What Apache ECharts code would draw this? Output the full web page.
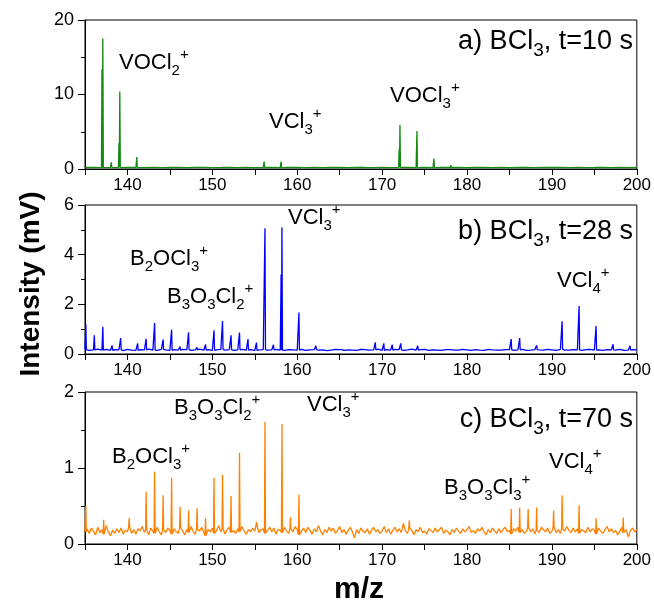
<!DOCTYPE html>
<html><head><meta charset="utf-8">
<script src="https://cdn.jsdelivr.net/npm/echarts@6/dist/echarts.min.js"></script>
<style>html,body{margin:0;padding:0;background:#fff}#c{width:654px;height:606px}</style>
</head><body><div id="c"></div>
<script>
// ---------- DATA ----------
const xMin = 135, xMax = 200;
const xTickLabels = [140, 150, 160, 170, 180, 190, 200];

// panel a (t = 10 s) baseline, 1 m/z step from 135
const baseAStart = 135, baseAStep = 1;
const baseA = [0.20,0.22,0.18,0.21,0.19,0.23,0.20,0.18,0.21,0.19,0.22,0.20,0.18,0.21,0.23,0.19,0.20,0.22,0.18,0.21,0.19,0.20,0.23,0.18,0.21,0.20,0.19,0.22,0.18,0.20,0.21,0.19,0.23,0.20,0.18,0.22,0.19,0.21,0.20,0.18,0.22,0.19,0.21,0.20,0.23,0.18,0.20,0.22,0.19,0.21,0.18,0.20,0.22,0.19,0.21,0.20,0.23,0.18,0.21,0.19,0.20,0.22,0.18,0.21,0.19,0.20];
const peaksA = [[136.1,0.4],[137.0,13.4],[137.1,17.5],[138.1,0.9],[139.0,3.5],[139.1,10.4],[141.1,1.6],[156.1,1.0],[158.1,1.0],[160.1,0.35],[172.0,2.6],[172.1,5.9],[174.1,5.1],[176.1,1.4],[178.1,0.5]];

// panel b (t = 28 s) baseline, 0.5 m/z step from 135
const baseBStart = 135, baseBStep = 0.5;
const baseB = [0.18,0.15,0.17,0.20,0.16,0.19,0.15,0.18,0.17,0.14,0.19,0.16,0.15,0.18,0.17,0.20,0.16,0.15,0.19,0.17,0.15,0.18,0.16,0.19,0.18,0.15,0.17,0.20,0.16,0.18,0.15,0.17,0.19,0.16,0.18,0.15,0.17,0.19,0.16,0.18,0.15,0.17,0.18,0.16,0.17,0.19,0.16,0.15,0.18,0.17,0.16,0.19,0.15,0.17,0.18,0.16,0.17,0.14,0.16,0.19,0.18,0.15,0.17,0.16,0.15,0.19,0.18,0.16,0.17,0.20,0.15,0.18,0.16,0.19,0.18,0.15,0.17,0.20,0.16,0.18,0.19,0.15,0.17,0.16,0.15,0.18,0.18,0.16,0.16,0.19,0.17,0.15,0.18,0.16,0.15,0.19,0.17,0.16,0.16,0.18,0.18,0.15,0.17,0.19,0.15,0.16,0.18,0.17,0.16,0.19,0.17,0.15,0.19,0.16,0.16,0.18,0.17,0.15,0.18,0.19,0.16,0.17,0.15,0.18,0.17,0.16,0.19,0.15,0.16,0.18,0.17];
const peaksB = [[135.1,1.2],[136.1,0.75],[137.1,1.1],[138.2,0.34],[139.2,0.64],[141.2,0.43],[142.2,0.61],[143.2,1.25],[144.2,0.58],[145.2,0.98],[146.2,0.30],[147.2,0.87],[148.2,0.27],[149.2,0.38],[150.2,0.95],[151.2,1.33],[152.2,0.75],[153.2,0.86],[154.2,0.60],[155.2,0.46],[156.2,5.06],[157.2,0.37],[158.1,3.2],[158.2,5.09],[160.2,1.67],[162.2,0.33],[165.2,0.22],[169.2,0.47],[170.2,0.43],[171.2,0.37],[172.2,0.43],[174.2,0.33],[185.2,0.60],[186.2,0.64],[188.2,0.35],[191.2,1.32],[193.2,1.93],[195.2,1.13],[197.2,0.39],[199.2,0.33]];

// panel c (t = 70 s) baseline, 0.25 m/z step from 135
const baseCStart = 135, baseCStep = 0.25;
const baseC = [0.16,0.20,0.14,0.21, 0.17,0.12,0.22,0.15, 0.19,0.13,0.24,0.16, 0.11,0.18,0.14,0.20, 0.15,0.21,0.13,0.18,
 0.16,0.22,0.14,0.19, 0.13,0.20,0.17,0.23, 0.15,0.19,0.12,0.21, 0.17,0.14,0.22,0.16, 0.12,0.19,0.15,0.21,
 0.18,0.13,0.20,0.16, 0.14,0.22,0.17,0.12, 0.19,0.15,0.23,0.16, 0.13,0.20,0.17,0.22, 0.15,0.11,0.19,0.16,
 0.21,0.14,0.18,0.24, 0.16,0.20,0.13,0.19, 0.22,0.15,0.18,0.14, 0.20,0.16,0.23,0.17, 0.13,0.19,0.16,0.21,
 0.17,0.24,0.15,0.19, 0.20,0.14,0.18,0.22, 0.16,0.21,0.13,0.19, 0.18,0.15,0.22,0.17, 0.14,0.20,0.16,0.23,
 0.19,0.12,0.17,0.21, 0.15,0.22,0.18,0.13, 0.20,0.16,0.24,0.17, 0.12,0.19,0.15,0.22, 0.17,0.21,0.14,0.18,
 0.23,0.15,0.19,0.13, 0.18,0.22,0.16,0.08, 0.19,0.14,0.21,0.17, 0.15,0.20,0.13,0.18, 0.22,0.16,0.19,0.14,
 0.17,0.23,0.15,0.20, 0.13,0.18,0.22,0.16, 0.20,0.15,0.27,0.17, 0.14,0.21,0.18,0.12, 0.19,0.16,0.22,0.15,
 0.17,0.13,0.20,0.18, 0.15,0.21,0.16,0.19, 0.22,0.14,0.18,0.16, 0.12,0.19,0.15,0.21, 0.17,0.14,0.20,0.16,
 0.19,0.23,0.15,0.18, 0.14,0.20,0.17,0.22, 0.16,0.12,0.19,0.15, 0.21,0.17,0.14,0.20, 0.15,0.19,0.22,0.16,
 0.18,0.13,0.20,0.17, 0.22,0.15,0.19,0.14, 0.17,0.21,0.16,0.20, 0.13,0.18,0.15,0.22, 0.19,0.16,0.21,0.14,
 0.17,0.22,0.15,0.19, 0.14,0.20,0.17,0.23, 0.18,0.15,0.21,0.16, 0.20,0.14,0.19,0.17, 0.15,0.22,0.16,0.20,
 0.18,0.13,0.21,0.17, 0.14,0.19,0.23,0.16, 0.20,0.15,0.18,0.12, 0.17,0.22,0.15,0.19, 0.09,0.18,0.21,0.16,
 0.19];
const peaksC = [[135.1,0.5],[137.2,0.32],[140.2,0.34],[142.2,0.69],[143.2,0.95],[144.2,0.64],[145.2,0.87],[146.2,0.49],[147.2,0.44],[148.2,0.47],[149.2,0.34],[150.2,0.87],[151.2,0.91],[152.2,0.63],[153.2,1.20],[155.2,0.29],[156.2,1.61],[158.2,1.58],[159.2,0.35],[160.2,0.65],[173.2,0.31],[185.2,0.46],[186.2,0.48],[187.2,0.46],[188.2,0.48],[190.2,0.44],[191.2,0.64],[193.2,0.51],[195.2,0.34],[198.4,0.35]];

const yMaxes = [20, 6, 2];
const yIntervals = [10, 2, 1];

// ---------- BUILD ----------
function buildSeries(base, start, step, peaks) {
  const pts = [];
  for (let i = 0; i < base.length; i++) {
    const x = +(start + i * step).toFixed(3);
    if (peaks.some(p => Math.abs(p[0] - x) < 0.08)) continue;
    pts.push([x, base[i]]);
  }
  peaks.forEach(([m, h]) => {
    const idx = Math.min(base.length - 1, Math.max(0, Math.round((m - start) / step)));
    const b = base[idx];
    pts.push([m - 0.06, b], [m, h], [m + 0.06, b]);
  });
  pts.sort((a, b) => a[0] - b[0]);
  return pts;
}

const FONT = "'Liberation Sans', Arial, sans-serif";
const colors = ['#128a12', '#0000ff', '#ff8000'];
const grids = [
  {left: 85, top: 20, width: 552, height: 149},
  {left: 85, top: 205, width: 552, height: 149},
  {left: 85, top: 392, width: 552, height: 152}
];
const seriesData = [
  buildSeries(baseA, baseAStart, baseAStep, peaksA),
  buildSeries(baseB, baseBStart, baseBStep, peaksB),
  buildSeries(baseC, baseCStart, baseCStep, peaksC)
];

const richStyle = (main, small, mainLH) => ({
  m: {fontSize: main, lineHeight: mainLH, fontFamily: FONT, color: '#000', verticalAlign: 'middle'},
  sb: {fontSize: small, lineHeight: small, fontFamily: FONT, color: '#000', verticalAlign: 'bottom'},
  sp: {fontSize: small, lineHeight: small, fontFamily: FONT, color: '#000', verticalAlign: 'top'}
});
const peakRich = richStyle(22, 15, 31);
const panelRich = richStyle(27, 19, 37);

function label(x, y, text, rich, align) {
  return {type: 'text', x: x, y: y, silent: true,
    style: {text: text, rich: rich, align: align || 'left', verticalAlign: 'middle', fontFamily: FONT, fill: '#000'}};
}

const labels = [
  label(633, 42, '{m|a) BCl}{sb|3}{m|, t=10 s}', panelRich, 'right'),
  label(119, 63, '{m|VOCl}{sb|2}{sp|+}', peakRich),
  label(269, 122, '{m|VCl}{sb|3}{sp|+}', peakRich),
  label(390, 96, '{m|VOCl}{sb|3}{sp|+}', peakRich),
  label(633, 232, '{m|b) BCl}{sb|3}{m|, t=28 s}', panelRich, 'right'),
  label(288, 218, '{m|VCl}{sb|3}{sp|+}', peakRich),
  label(130, 259, '{m|B}{sb|2}{m|OCl}{sb|3}{sp|+}', peakRich),
  label(167, 297, '{m|B}{sb|3}{m|O}{sb|3}{m|Cl}{sb|2}{sp|+}', peakRich),
  label(557, 281, '{m|VCl}{sb|4}{sp|+}', peakRich),
  label(633, 420, '{m|c) BCl}{sb|3}{m|, t=70 s}', panelRich, 'right'),
  label(174, 408, '{m|B}{sb|3}{m|O}{sb|3}{m|Cl}{sb|2}{sp|+}', peakRich),
  label(307, 405, '{m|VCl}{sb|3}{sp|+}', peakRich),
  label(112, 457, '{m|B}{sb|2}{m|OCl}{sb|3}{sp|+}', peakRich),
  label(444, 488, '{m|B}{sb|3}{m|O}{sb|3}{m|Cl}{sb|3}{sp|+}', peakRich),
  label(549, 462, '{m|VCl}{sb|4}{sp|+}', peakRich),
  {type: 'text', x: 31, y: 284, rotation: Math.PI / 2, silent: true,
   style: {text: 'Intensity (mV)', font: "bold 28px " + FONT, fill: '#000', align: 'center', verticalAlign: 'middle'}},
  {type: 'text', x: 359, y: 590, silent: true,
   style: {text: 'm/z', font: "bold 30px " + FONT, fill: '#000', align: 'center', verticalAlign: 'middle'}}
];

const option = {
  animation: false,
  backgroundColor: '#fff',
  grid: grids.map(g => Object.assign({show: true, borderColor: '#000', borderWidth: 1, backgroundColor: 'transparent'}, g)),
  xAxis: grids.map((g, i) => ({
    type: 'value', gridIndex: i, min: xMin, max: xMax, interval: 5,
    axisLine: {show: true, onZero: false, lineStyle: {color: '#000', width: 1}},
    axisTick: {show: true, inside: false, length: 6, lineStyle: {color: '#000'}},
    axisLabel: {fontSize: 17, color: '#000', fontFamily: FONT, margin: 8,
      formatter: v => (xTickLabels.indexOf(v) >= 0 ? String(v) : '')},
    splitLine: {show: false}
  })),
  yAxis: grids.map((g, i) => ({
    type: 'value', gridIndex: i, min: 0, max: yMaxes[i], interval: yIntervals[i],
    axisLine: {show: true, lineStyle: {color: '#000', width: 1}},
    axisTick: {show: true, inside: false, length: 7, lineStyle: {color: '#000'}},
    minorTick: {show: true, splitNumber: 2, length: 4, lineStyle: {color: '#000'}},
    axisLabel: {fontSize: 18, color: '#000', fontFamily: FONT, margin: 11},
    splitLine: {show: false}
  })),
  series: seriesData.map((d, i) => ({
    type: 'line', xAxisIndex: i, yAxisIndex: i, data: d,
    showSymbol: false, symbol: 'none', silent: true, clip: true,
    lineStyle: {color: colors[i], width: 1.3}
  })),
  graphic: labels
};

const chart = echarts.init(document.getElementById('c'), null, {renderer: 'canvas'});
chart.setOption(option);
</script>
</body></html>
